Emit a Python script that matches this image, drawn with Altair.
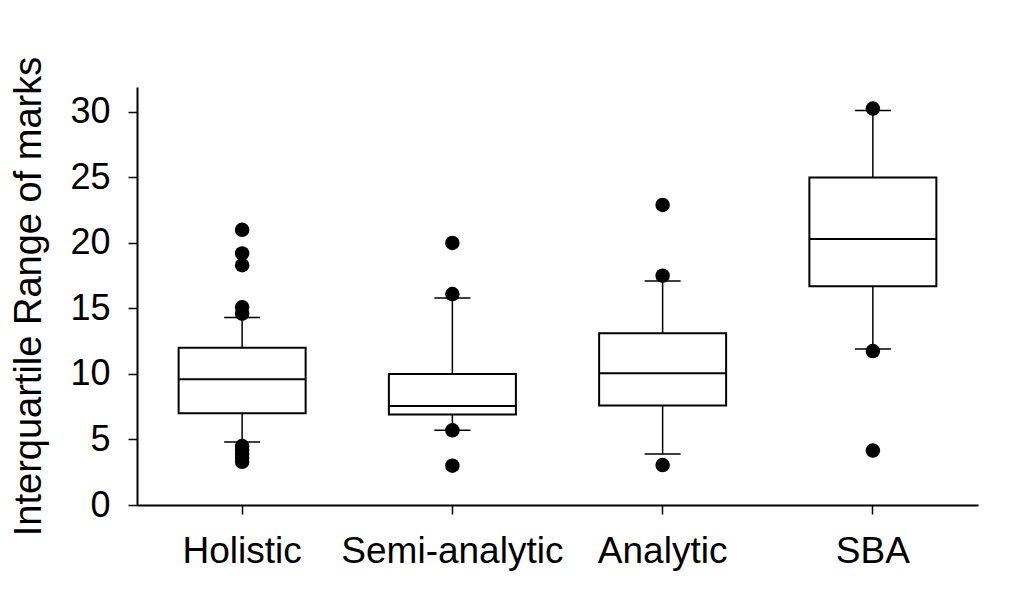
import altair as alt
import pandas as pd

categories = ["Holistic", "Semi-analytic", "Analytic", "SBA"]
q1 = [7.0, 6.9, 7.6, 16.7]
median = [9.6, 7.55, 10.05, 20.3]
q3 = [12.0, 10.0, 13.1, 25.0]
whisker_lo = [4.8, 5.7, 3.9, 11.9]
whisker_hi = [14.3, 15.8, 17.1, 30.1]

outlier_cats = (["Holistic"] * 10 + ["Semi-analytic"] * 4 + ["Analytic"] * 3 + ["SBA"] * 3)
outlier_vals = [21.0, 19.2, 18.3, 15.1, 14.6, 4.5, 4.2, 3.9, 3.6, 3.3,
                20.0, 16.1, 5.7, 3.0,
                22.9, 17.5, 3.05,
                30.25, 11.75, 4.15]

y_ticks = [0, 5, 10, 15, 20, 25, 30]

summary = pd.DataFrame({"cat": categories, "q1": q1, "med": median, "q3": q3,
                        "lo": whisker_lo, "hi": whisker_hi})
outliers = pd.DataFrame({"cat": outlier_cats, "val": outlier_vals})

FONT = "Liberation Sans"

x_enc = alt.X("cat:N", sort=categories,
              scale=alt.Scale(paddingInner=0, paddingOuter=0),
              axis=alt.Axis(title=None, labelAngle=0, labelFont=FONT, labelFontSize=37,
                            labelColor="black", labelPadding=19, labelLimit=0, tickSize=9,
                            tickColor="black", tickWidth=1.5, domainColor="black",
                            domainWidth=2, grid=False))
y_scale = alt.Scale(domain=[0, 31.9], nice=False, zero=True)
y_axis = alt.Axis(title="Interquartile Range of marks", titleFont=FONT, titleFontSize=38,
                  titleFontWeight="normal", titleColor="black", titlePadding=21,
                  values=y_ticks, labelFont=FONT, labelFontSize=36, labelColor="black",
                  labelPadding=18, tickSize=9, tickColor="black", tickWidth=1.5,
                  domainColor="black", domainWidth=2, grid=False)

base = alt.Chart(summary)

whisk_up = base.mark_rule(color="black", strokeWidth=1.5).encode(
    x=x_enc, y=alt.Y("q3:Q", scale=y_scale, axis=y_axis), y2="hi:Q")
whisk_dn = base.mark_rule(color="black", strokeWidth=1.5).encode(
    x=x_enc, y=alt.Y("lo:Q", scale=y_scale, axis=y_axis), y2="q1:Q")
box = base.mark_bar(size=127, fill="white", stroke="black", strokeWidth=2).encode(
    x=x_enc, y=alt.Y("q1:Q", scale=y_scale, axis=y_axis), y2="q3:Q")
med = base.mark_tick(size=127, thickness=2, color="black", opacity=1).encode(
    x=x_enc, y=alt.Y("med:Q", scale=y_scale, axis=y_axis))
cap_hi = base.mark_tick(size=36, thickness=1.5, color="black", opacity=1).encode(
    x=x_enc, y=alt.Y("hi:Q", scale=y_scale, axis=y_axis))
cap_lo = base.mark_tick(size=36, thickness=1.5, color="black", opacity=1).encode(
    x=x_enc, y=alt.Y("lo:Q", scale=y_scale, axis=y_axis))
pts = alt.Chart(outliers).mark_circle(size=210, color="black", opacity=1).encode(
    x=x_enc, y=alt.Y("val:Q", scale=y_scale, axis=y_axis))

chart = alt.layer(whisk_up, whisk_dn, box, med, cap_hi, cap_lo, pts).properties(
    width=841, height=418,
    autosize=alt.AutoSizeParams(type="none"),
    padding={"left": 137, "top": 87, "right": 46, "bottom": 95},
    background="white",
).configure_view(stroke=None)

chart.save("out.html", embed_options={"renderer": "svg", "actions": False})
